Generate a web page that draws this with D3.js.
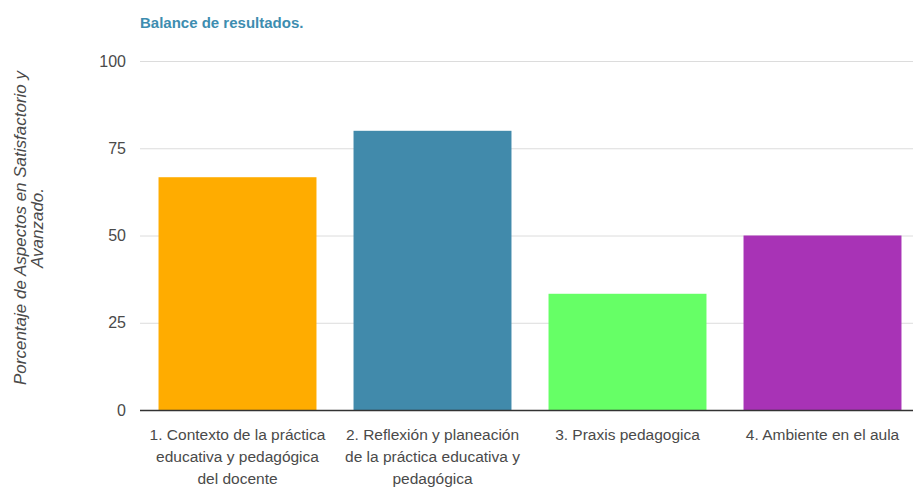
<!DOCTYPE html>
<html>
<head>
<meta charset="utf-8">
<script src="https://cdn.jsdelivr.net/npm/d3@7"></script>
<style>
  body { margin: 0; background: #fff; }
  text { font-family: Arial, "Liberation Sans", sans-serif; }
</style>
</head>
<body>
<svg width="913" height="487"></svg>
<script>
// Chart data
const categories = [
  ["1. Contexto de la práctica", "educativa y pedagógica", "del docente"],
  ["2. Reflexión y planeación", "de la práctica educativa y", "pedagógica"],
  ["3. Praxis pedagogica"],
  ["4. Ambiente en el aula"],
];
const values = [66.7, 80, 33.3, 50];
const barColors = ["#ffac00", "#418aab", "#66ff66", "#a833b6"];
const yTicks = [0, 25, 50, 75, 100];

let svg = d3.select("svg"),
  width = +svg.attr("width"),
  height = +svg.attr("height");

let plotLeft = 140,
  plotTop = 61,
  plotBottom = 410;

let x = d3
  .scaleBand()
  .domain(d3.range(values.length))
  .range([plotLeft, 920])
  .paddingInner(0.19)
  .paddingOuter(0.095);

let y = d3.scaleLinear().domain([0, 100]).range([plotBottom, plotTop]);

// title
svg
  .append("text")
  .attr("x", 140)
  .attr("y", 28)
  .attr("fill", "#3d8db0")
  .attr("font-size", 15)
  .attr("font-weight", "bold")
  .text("Balance de resultados.");

// grid + y ticks
let yAxis = svg
  .append("g")
  .attr("transform", "translate(" + plotLeft + ",0)")
  .call(
    d3
      .axisLeft(y)
      .tickValues(yTicks)
      .tickSize(-(width - plotLeft))
      .tickPadding(14)
  );
yAxis.select(".domain").remove();
yAxis.selectAll(".tick line").attr("stroke", "#dcdcdc");
yAxis
  .selectAll(".tick text")
  .attr("fill", "#4a4a4a")
  .attr("font-size", 16)
  .attr("font-family", "Arial, 'Liberation Sans', sans-serif");

// bars
svg
  .append("g")
  .selectAll("rect")
  .data(values)
  .enter()
  .append("rect")
  .attr("x", function (d, i) {
    return x(i);
  })
  .attr("y", function (d) {
    return y(d);
  })
  .attr("width", x.bandwidth())
  .attr("height", function (d) {
    return y(0) - y(d);
  })
  .attr("fill", function (d, i) {
    return barColors[i];
  });

// baseline
svg
  .append("line")
  .attr("x1", plotLeft)
  .attr("x2", width)
  .attr("y1", y(0) + 0.5)
  .attr("y2", y(0) + 0.5)
  .attr("stroke", "#333")
  .attr("stroke-width", 1.3);

// x labels
let labels = svg
  .append("g")
  .selectAll("text")
  .data(categories)
  .enter()
  .append("text")
  .attr("text-anchor", "middle")
  .attr("fill", "#4a4a4a")
  .attr("font-size", 15.5)
  .attr("transform", function (d, i) {
    return "translate(" + (x(i) + x.bandwidth() / 2) + "," + (y(0) + 30) + ")";
  });

labels
  .selectAll("tspan")
  .data(function (d) {
    return d;
  })
  .enter()
  .append("tspan")
  .attr("x", 0)
  .attr("dy", function (d, i) {
    return i === 0 ? 0 : 22;
  })
  .text(function (d) {
    return d;
  });

// y axis title
let yTitle = svg
  .append("text")
  .attr("transform", "translate(26,228) rotate(-90)")
  .attr("text-anchor", "middle")
  .attr("fill", "#4a4a4a")
  .attr("font-size", 17)
  .attr("font-style", "italic");
yTitle.append("tspan").attr("x", 0).attr("dy", 0).text("Porcentaje de Aspectos en Satisfactorio y");
yTitle.append("tspan").attr("x", 0).attr("dy", 17).text("Avanzado.");
</script>
</body>
</html>
